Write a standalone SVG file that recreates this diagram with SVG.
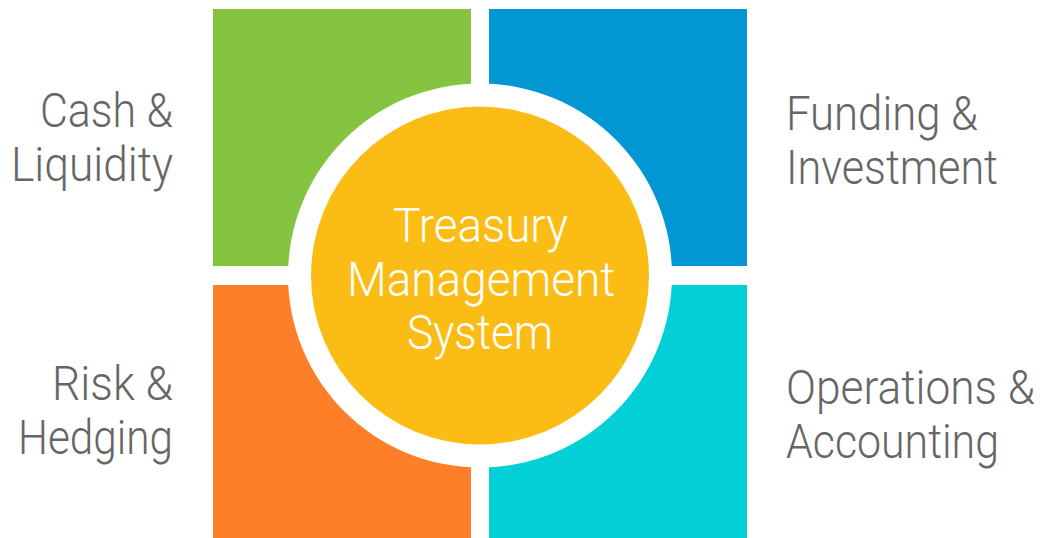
<svg xmlns="http://www.w3.org/2000/svg" width="1044" height="538" viewBox="0 0 1044 538">
<style>
.lbl{font-family:Roboto,"Liberation Sans",sans-serif;font-size:48px;font-weight:300;fill:#666666}
.ctr{font-family:Roboto,"Liberation Sans",sans-serif;font-size:48px;font-weight:300;fill:#ffffff;text-anchor:middle}
</style>
<rect width="1044" height="538" fill="#ffffff"/>
<g id="cash-liquidity">
<rect x="213" y="9" width="258" height="257" fill="#84c441"/>
<text class="lbl" text-anchor="end" x="173" y="127" textLength="133" lengthAdjust="spacingAndGlyphs">Cash &amp;</text>
<text class="lbl" text-anchor="end" x="173" y="181" textLength="162" lengthAdjust="spacingAndGlyphs">Liquidity</text>
</g>
<g id="funding-investment">
<rect x="489" y="9" width="258" height="257" fill="#0297d3"/>
<text class="lbl" x="786" y="130" textLength="192" lengthAdjust="spacingAndGlyphs">Funding &amp;</text>
<text class="lbl" x="786" y="184" textLength="212" lengthAdjust="spacingAndGlyphs">Investment</text>
</g>
<g id="risk-hedging">
<rect x="213" y="285" width="258" height="253" fill="#fe7f28"/>
<text class="lbl" text-anchor="end" x="173" y="400" textLength="121" lengthAdjust="spacingAndGlyphs">Risk &amp;</text>
<text class="lbl" text-anchor="end" x="173" y="454" textLength="155" lengthAdjust="spacingAndGlyphs">Hedging</text>
</g>
<g id="operations-accounting">
<rect x="489" y="285" width="258" height="253" fill="#02cfd6"/>
<text class="lbl" x="786" y="404" textLength="249" lengthAdjust="spacingAndGlyphs">Operations &amp;</text>
<text class="lbl" x="786" y="458" textLength="213" lengthAdjust="spacingAndGlyphs">Accounting</text>
</g>
<g id="treasury-management-system">
<circle cx="480" cy="275.5" r="192" fill="#ffffff"/>
<circle cx="480" cy="275.5" r="169" fill="#fbbd15"/>
<text class="ctr" x="480.5" y="242" textLength="175" lengthAdjust="spacingAndGlyphs">Treasury</text>
<text class="ctr" x="481" y="296" textLength="268" lengthAdjust="spacingAndGlyphs">Management</text>
<text class="ctr" x="480" y="349" textLength="146" lengthAdjust="spacingAndGlyphs">System</text>
</g>
<g id="connectors"></g>
</svg>
